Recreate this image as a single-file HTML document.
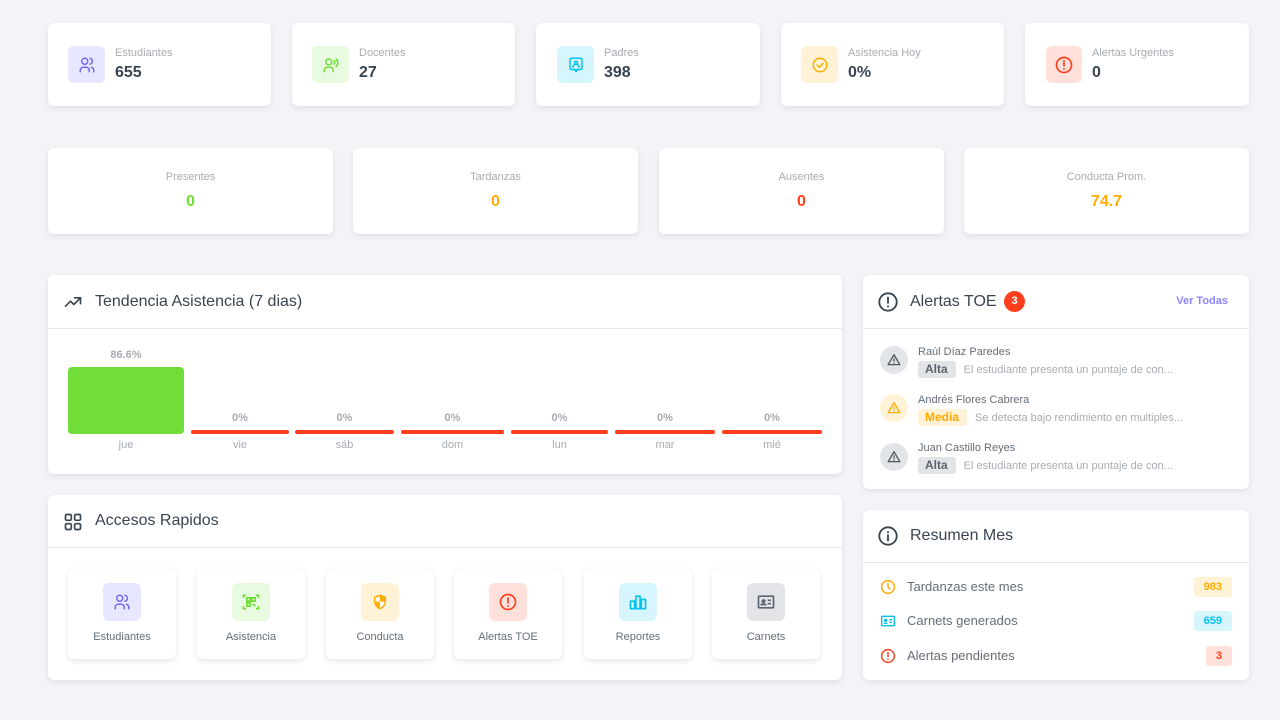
<!DOCTYPE html>
<html><head><meta charset="utf-8">
<style>
*{box-sizing:border-box;margin:0;padding:0}
body{width:1280px;height:720px;background:#f4f4f8;font-family:"Liberation Sans",sans-serif;color:#384551;position:relative;overflow:hidden}
.card{position:absolute;background:#fff;border-radius:6px;box-shadow:0 2px 6px rgba(38,43,67,0.10)}
.ib{position:absolute;border-radius:6px;display:flex;align-items:center;justify-content:center}
.lbl{position:absolute;font-size:11px;color:#a7acb2}
.val{position:absolute;font-size:16px;font-weight:bold;color:#384551}
.c{position:absolute;left:0;right:0;text-align:center}
.hdr{position:absolute;left:0;right:0;border-bottom:1px solid #e4e6e8}
.ttl{position:absolute;font-size:16px;color:#384551}
.bar{position:absolute;border-radius:3px}
.pct{position:absolute;font-size:11px;color:#a7acb2;text-align:center;font-weight:bold}
.day{position:absolute;font-size:11px;color:#a7acb2;text-align:center}
.tile{position:absolute;top:74px;width:108px;height:90px;background:#fff;border-radius:6px;box-shadow:0 2px 6px rgba(38,43,67,0.12)}
.tile .ib{left:35px;top:14px;width:38px;height:38px}
.tile .t{position:absolute;left:0;right:0;top:62px;text-align:center;font-size:11px;color:#646e78}
.av{position:absolute;left:17px;width:28px;height:28px;border-radius:50%;display:flex;align-items:center;justify-content:center}
.nm{position:absolute;left:55px;font-size:11px;color:#646e78}
.ln{position:absolute;left:55px;display:flex;align-items:center;white-space:nowrap}
.bd{height:17px;border-radius:3px;font-size:12px;font-weight:bold;padding:0 8px 0 7px;line-height:17px;margin-right:8px}
.ds{font-size:11px;color:#a7acb2}
.rr{position:absolute;left:17px;right:17px;height:20px}
.rr .tx{position:absolute;left:27px;top:2px;font-size:13px;color:#646e78}
.rr .ic{position:absolute;left:0;top:2px}
.rr .pill{position:absolute;right:0;top:0;height:20px;border-radius:3px;font-size:11px;font-weight:bold;line-height:20px;padding:0 10px}
</style></head><body>

<!-- Row 1 -->
<div class="card" style="left:48px;top:23px;width:223px;height:83px">
 <div class="ib" style="left:20px;top:23px;width:37px;height:37px;background:#e7e7ff">
  <svg width="18" height="18" viewBox="0 0 24 24" fill="none" stroke="#7367f0" stroke-width="2" stroke-linecap="round"><circle cx="9" cy="7" r="4"/><path d="M3 21v-2a4 4 0 0 1 4-4h4a4 4 0 0 1 4 4v2"/><path d="M16 3.1a4 4 0 0 1 0 7.8M21 21v-2a4 4 0 0 0-3-3.8"/></svg></div>
 <div class="lbl" style="left:67px;top:24px">Estudiantes</div>
 <div class="val" style="left:67px;top:41px">655</div>
</div>
<div class="card" style="left:292px;top:23px;width:223px;height:83px">
 <div class="ib" style="left:20px;top:23px;width:37px;height:37px;background:#e8fadf">
  <svg width="18" height="18" viewBox="0 0 24 24" fill="none" stroke="#71dd37" stroke-width="2" stroke-linecap="round"><circle cx="9" cy="8" r="4"/><path d="M3 21v-2a4 4 0 0 1 4-4h4a4 4 0 0 1 4 4v2"/><path d="M16 6a4 4 0 0 1 0 5M19 4a7 7 0 0 1 0 10"/></svg></div>
 <div class="lbl" style="left:67px;top:24px">Docentes</div>
 <div class="val" style="left:67px;top:41px">27</div>
</div>
<div class="card" style="left:536px;top:23px;width:224px;height:83px">
 <div class="ib" style="left:21px;top:23px;width:37px;height:37px;background:#d7f5fc">
  <svg width="18" height="18" viewBox="0 0 24 24" fill="none" stroke="#03c3ec" stroke-width="2" stroke-linecap="round" stroke-linejoin="round"><rect x="4" y="3" width="16" height="15" rx="2"/><path d="M10 18l2 3 2-3"/><circle cx="12" cy="9" r="2"/><path d="M8 15a4 4 0 0 1 8 0"/></svg></div>
 <div class="lbl" style="left:68px;top:24px">Padres</div>
 <div class="val" style="left:68px;top:41px">398</div>
</div>
<div class="card" style="left:781px;top:23px;width:223px;height:83px">
 <div class="ib" style="left:20px;top:23px;width:37px;height:37px;background:#fff2d6">
  <svg width="18" height="18" viewBox="0 0 24 24" fill="none" stroke="#ffab00" stroke-width="2" stroke-linecap="round" stroke-linejoin="round"><circle cx="12" cy="12" r="9"/><path d="M8 12l3 3 5-5"/></svg></div>
 <div class="lbl" style="left:67px;top:24px">Asistencia Hoy</div>
 <div class="val" style="left:67px;top:41px">0%</div>
</div>
<div class="card" style="left:1025px;top:23px;width:224px;height:83px">
 <div class="ib" style="left:21px;top:23px;width:36px;height:37px;background:#ffe0db">
  <svg width="20" height="20" viewBox="0 0 24 24" fill="none" stroke="#ff3e1d" stroke-width="2" stroke-linecap="round"><circle cx="12" cy="12" r="9"/><path d="M12 7v6M12 16.5v.5"/></svg></div>
 <div class="lbl" style="left:67px;top:24px">Alertas Urgentes</div>
 <div class="val" style="left:67px;top:41px">0</div>
</div>

<!-- Row 2 -->
<div class="card" style="left:48px;top:148px;width:285px;height:86px">
 <div class="c lbl" style="top:23px">Presentes</div>
 <div class="c val" style="top:45px;color:#71dd37">0</div>
</div>
<div class="card" style="left:353px;top:148px;width:285px;height:86px">
 <div class="c lbl" style="top:23px">Tardanzas</div>
 <div class="c val" style="top:45px;color:#ffab00">0</div>
</div>
<div class="card" style="left:659px;top:148px;width:285px;height:86px">
 <div class="c lbl" style="top:23px">Ausentes</div>
 <div class="c val" style="top:45px;color:#ff3e1d">0</div>
</div>
<div class="card" style="left:964px;top:148px;width:285px;height:86px">
 <div class="c lbl" style="top:23px">Conducta Prom.</div>
 <div class="c val" style="top:45px;color:#ffab00">74.7</div>
</div>

<!-- Chart card -->
<div class="card" style="left:48px;top:275px;width:794px;height:199px">
 <div class="hdr" style="top:0;height:54px"></div>
 <svg style="position:absolute;left:15px;top:17px" width="20" height="20" viewBox="0 0 24 24" fill="none" stroke="#384551" stroke-width="2" stroke-linecap="round" stroke-linejoin="round"><path d="M3 17l6-6 4 4 8-8"/><path d="M14 7h7v7"/></svg>
 <div class="ttl" style="left:47px;top:18px">Tendencia Asistencia (7 dias)</div>
 <div class="pct" style="left:20px;width:116px;top:74px">86.6%</div>
 <div class="bar" style="left:20px;top:92px;width:116px;height:67px;background:#71dd37;border-radius:4px"></div>
 <div class="day" style="left:20px;width:116px;top:164px">jue</div>

 <div class="pct" style="left:143px;width:98px;top:137px">0%</div>
 <div class="bar" style="left:143px;top:155px;width:98px;height:4px;background:#ff3e1d"></div>
 <div class="day" style="left:143px;width:98px;top:164px">vie</div>

 <div class="pct" style="left:247px;width:99px;top:137px">0%</div>
 <div class="bar" style="left:247px;top:155px;width:99px;height:4px;background:#ff3e1d"></div>
 <div class="day" style="left:247px;width:99px;top:164px">sáb</div>

 <div class="pct" style="left:353px;width:103px;top:137px">0%</div>
 <div class="bar" style="left:353px;top:155px;width:103px;height:4px;background:#ff3e1d"></div>
 <div class="day" style="left:353px;width:103px;top:164px">dom</div>

 <div class="pct" style="left:463px;width:97px;top:137px">0%</div>
 <div class="bar" style="left:463px;top:155px;width:97px;height:4px;background:#ff3e1d"></div>
 <div class="day" style="left:463px;width:97px;top:164px">lun</div>

 <div class="pct" style="left:567px;width:100px;top:137px">0%</div>
 <div class="bar" style="left:567px;top:155px;width:100px;height:4px;background:#ff3e1d"></div>
 <div class="day" style="left:567px;width:100px;top:164px">mar</div>

 <div class="pct" style="left:674px;width:100px;top:137px">0%</div>
 <div class="bar" style="left:674px;top:155px;width:100px;height:4px;background:#ff3e1d"></div>
 <div class="day" style="left:674px;width:100px;top:164px">mié</div>
</div>

<!-- Accesos -->
<div class="card" style="left:48px;top:495px;width:794px;height:185px">
 <div class="hdr" style="top:0;height:53px"></div>
 <svg style="position:absolute;left:15px;top:17px" width="20" height="20" viewBox="0 0 24 24" fill="none" stroke="#384551" stroke-width="2"><rect x="3" y="3" width="7" height="7" rx="1.5"/><rect x="14" y="3" width="7" height="7" rx="1.5"/><rect x="3" y="14" width="7" height="7" rx="1.5"/><rect x="14" y="14" width="7" height="7" rx="1.5"/></svg>
 <div class="ttl" style="left:47px;top:17px">Accesos Rapidos</div>

 <div class="tile" style="left:20px"><div class="ib" style="background:#e7e7ff"><svg width="18" height="18" viewBox="0 0 24 24" fill="none" stroke="#7367f0" stroke-width="2" stroke-linecap="round"><circle cx="9" cy="7" r="4"/><path d="M3 21v-2a4 4 0 0 1 4-4h4a4 4 0 0 1 4 4v2"/><path d="M16 3.1a4 4 0 0 1 0 7.8M21 21v-2a4 4 0 0 0-3-3.8"/></svg></div><div class="t">Estudiantes</div></div>
 <div class="tile" style="left:149px"><div class="ib" style="background:#e8fadf"><svg width="20" height="20" viewBox="0 0 24 24" fill="none" stroke="#71dd37" stroke-width="2"><path d="M3 7V4h3M18 4h3v3M21 17v3h-3M6 20H3v-3"/><rect x="7" y="7" width="4" height="4"/><rect x="13" y="7" width="4" height="4"/><rect x="7" y="13" width="4" height="4"/><path d="M14 14l3 3"/></svg></div><div class="t">Asistencia</div></div>
 <div class="tile" style="left:278px"><div class="ib" style="background:#fff2d6"><svg width="18" height="18" viewBox="0 0 24 24"><path d="M12 2l8 3v6c0 5-3.5 9-8 11-4.5-2-8-6-8-11V5z" fill="#ffab00"/><path d="M12 4.5v7H5.8V6.4zM12 11.5h6.2c-.3 3.8-3 6.9-6.2 8.3z" fill="#fff"/></svg></div><div class="t">Conducta</div></div>
 <div class="tile" style="left:406px"><div class="ib" style="background:#ffe0db"><svg width="20" height="20" viewBox="0 0 24 24" fill="none" stroke="#ff3e1d" stroke-width="2" stroke-linecap="round"><circle cx="12" cy="12" r="9"/><path d="M12 7v6M12 16.5v.5"/></svg></div><div class="t">Alertas TOE</div></div>
 <div class="tile" style="left:536px"><div class="ib" style="background:#d7f5fc"><svg width="20" height="20" viewBox="0 0 24 24" fill="none" stroke="#03c3ec" stroke-width="2" stroke-linejoin="round"><rect x="3" y="11" width="5" height="9"/><rect x="9.5" y="5" width="5" height="15"/><rect x="16" y="9" width="5" height="11"/></svg></div><div class="t">Reportes</div></div>
 <div class="tile" style="left:664px"><div class="ib" style="background:#e2e4e7"><svg width="20" height="20" viewBox="0 0 24 24" fill="none" stroke="#5b6470" stroke-width="2"><rect x="3" y="5" width="18" height="14" rx="1"/><circle cx="9" cy="11" r="1.5" fill="#5b6470"/><path d="M6 16c0-2 6-2 6 0" fill="#5b6470"/><path d="M14 10h4M14 14h4"/></svg></div><div class="t">Carnets</div></div>
</div>

<!-- Alertas TOE -->
<div class="card" style="left:863px;top:275px;width:386px;height:214px">
 <div class="hdr" style="top:0;height:54px"></div>
 <svg style="position:absolute;left:14px;top:16px" width="22" height="22" viewBox="0 0 24 24" fill="none" stroke="#384551" stroke-width="2" stroke-linecap="round"><circle cx="12" cy="12" r="9.5"/><path d="M12 7v6M12 16.5v.5"/></svg>
 <div class="ttl" style="left:47px;top:18px">Alertas TOE</div>
 <div style="position:absolute;left:141px;top:16px;width:21px;height:21px;border-radius:50%;background:#ff3e1d;color:#fff;font-size:11px;font-weight:bold;text-align:center;line-height:21px">3</div>
 <div style="position:absolute;right:21px;top:20px;font-size:11px;font-weight:bold;color:#8c85ff">Ver Todas</div>

 <div class="av" style="top:71px;background:#e2e4e7"><svg width="14" height="14" viewBox="0 0 24 24" fill="none" stroke="#4b5563" stroke-width="2.2" stroke-linejoin="round" stroke-linecap="round"><path d="M12 3L2 20h20z"/><path d="M12 10v4M12 17v.3"/></svg></div>
 <div class="nm" style="top:71px">Raúl Díaz Paredes</div>
 <div class="ln" style="top:86px"><span class="bd" style="background:#e2e4e7;color:#5b6470">Alta</span><span class="ds">El estudiante presenta un puntaje de con...</span></div>

 <div class="av" style="top:119px;background:#fff2d6"><svg width="14" height="14" viewBox="0 0 24 24" fill="none" stroke="#ffab00" stroke-width="2.2" stroke-linejoin="round" stroke-linecap="round"><path d="M12 3L2 20h20z"/><path d="M12 10v4M12 17v.3"/></svg></div>
 <div class="nm" style="top:119px">Andrés Flores Cabrera</div>
 <div class="ln" style="top:134px"><span class="bd" style="background:#fff2d6;color:#ffab00">Media</span><span class="ds">Se detecta bajo rendimiento en multiples...</span></div>

 <div class="av" style="top:168px;background:#e2e4e7"><svg width="14" height="14" viewBox="0 0 24 24" fill="none" stroke="#4b5563" stroke-width="2.2" stroke-linejoin="round" stroke-linecap="round"><path d="M12 3L2 20h20z"/><path d="M12 10v4M12 17v.3"/></svg></div>
 <div class="nm" style="top:167px">Juan Castillo Reyes</div>
 <div class="ln" style="top:182px"><span class="bd" style="background:#e2e4e7;color:#5b6470">Alta</span><span class="ds">El estudiante presenta un puntaje de con...</span></div>
</div>

<!-- Resumen Mes -->
<div class="card" style="left:863px;top:510px;width:386px;height:170px">
 <div class="hdr" style="top:0;height:53px"></div>
 <svg style="position:absolute;left:14px;top:15px" width="22" height="22" viewBox="0 0 24 24" fill="none" stroke="#384551" stroke-width="2" stroke-linecap="round"><circle cx="12" cy="12" r="9.5"/><path d="M12 11v6M12 7.5v.5"/></svg>
 <div class="ttl" style="left:47px;top:17px">Resumen Mes</div>

 <div class="rr" style="top:67px">
  <svg class="ic" width="16" height="16" viewBox="0 0 24 24" fill="none" stroke="#ffab00" stroke-width="2.2" stroke-linecap="round"><circle cx="12" cy="12" r="9.5"/><path d="M12 7v5l3 3"/></svg>
  <div class="tx">Tardanzas este mes</div>
  <div class="pill" style="background:#fff2d6;color:#ffab00">983</div>
 </div>
 <div class="rr" style="top:101px">
  <svg class="ic" width="16" height="16" viewBox="0 0 24 24" fill="none" stroke="#03c3ec" stroke-width="2"><rect x="2.5" y="5" width="19" height="14" rx="1"/><circle cx="8.5" cy="11" r="1.5" fill="#03c3ec"/><path d="M6 15.5h5M14 10h4M14 14h4"/></svg>
  <div class="tx">Carnets generados</div>
  <div class="pill" style="background:#d7f5fc;color:#03c3ec">659</div>
 </div>
 <div class="rr" style="top:136px">
  <svg class="ic" width="16" height="16" viewBox="0 0 24 24" fill="none" stroke="#ff3e1d" stroke-width="2.2" stroke-linecap="round"><circle cx="12" cy="12" r="9.5"/><path d="M12 7v6M12 16.5v.5"/></svg>
  <div class="tx">Alertas pendientes</div>
  <div class="pill" style="background:#ffe0db;color:#ff3e1d">3</div>
 </div>
</div>

</body></html>
